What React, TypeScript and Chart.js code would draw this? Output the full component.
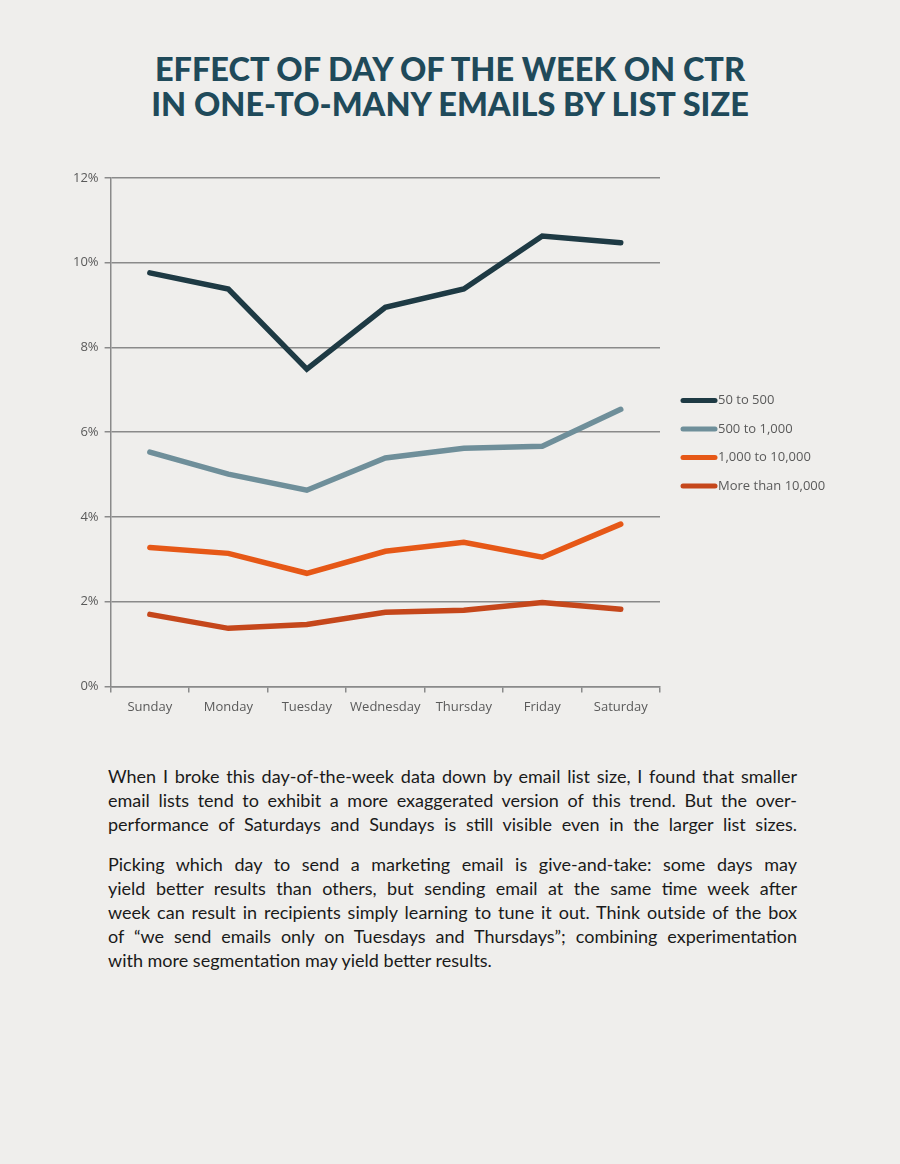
import React, { useEffect, useRef } from "react";
import { Chart, registerables } from "chart.js";

Chart.register(...registerables);

const days = ["Sunday", "Monday", "Tuesday", "Wednesday", "Thursday", "Friday", "Saturday"];
const seriesNames = ["50 to 500", "500 to 1,000", "1,000 to 10,000", "More than 10,000"];
const small = [9.76, 9.38, 7.49, 8.95, 9.38, 10.63, 10.47];
const medium = [5.53, 5.01, 4.63, 5.39, 5.62, 5.67, 6.54];
const large = [3.28, 3.14, 2.67, 3.19, 3.4, 3.05, 3.83];
const xlarge = [1.7, 1.37, 1.46, 1.75, 1.8, 1.98, 1.82];
const seriesColors = ["#1e3a44", "#6f8f9a", "#e65817", "#c5471b"];
const yTicks = [0, 2, 4, 6, 8, 10, 12];

const titleLines = ["EFFECT OF DAY OF THE WEEK ON CTR", "IN ONE-TO-MANY EMAILS BY LIST SIZE"];
const para1Lines = [
  "When I broke this day-of-the-week data down by email list size, I found that smaller",
  "email lists tend to exhibit a more exaggerated version of this trend. But the over-",
  "performance of Saturdays and Sundays is still visible even in the larger list sizes.",
];
const para2Lines = [
  "Picking which day to send a marketing email is give-and-take: some days may",
  "yield better results than others, but sending email at the same time week after",
  "week can result in recipients simply learning to tune it out. Think outside of the box",
  "of \u201cwe send emails only on Tuesdays and Thursdays\u201d; combining experimentation",
  "with more segmentation may yield better results.",
];

const legendPlugin = {
  id: "sideLegend",
  afterDraw(chart: any) {
    const { ctx, chartArea } = chart;
    const cy = (chartArea.top + chartArea.bottom) / 2 + 11;
    const x0 = chartArea.right + 23;
    ctx.save();
    chart.data.datasets.forEach((ds: any, i: number) => {
      const y = cy + (i - 1.5) * 28.5;
      ctx.strokeStyle = ds.borderColor;
      ctx.lineWidth = 5;
      ctx.lineCap = "round";
      ctx.beginPath();
      ctx.moveTo(x0, y);
      ctx.lineTo(x0 + 32, y);
      ctx.stroke();
      ctx.fillStyle = "#5a5a5a";
      ctx.font = "13px 'Open Sans'";
      ctx.textBaseline = "middle";
      ctx.textAlign = "left";
      ctx.fillText(ds.label, x0 + 35, y);
    });
    ctx.restore();
  },
};

function LineChart() {
  const ref = useRef<HTMLCanvasElement | null>(null);
  useEffect(() => {
    if (!ref.current) return;
    const data = [small, medium, large, xlarge];
    const chart = new Chart(ref.current, {
      type: "line",
      data: {
        labels: days,
        datasets: data.map((d, i) => ({
          label: seriesNames[i],
          data: d,
          borderColor: seriesColors[i],
          backgroundColor: seriesColors[i],
          borderWidth: 5.5,
          borderCapStyle: "round",
          borderJoinStyle: "miter",
          pointRadius: 0,
          tension: 0,
          fill: false,
        })),
      },
      options: {
        animation: false,
        responsive: true,
        maintainAspectRatio: false,
        layout: { padding: { left: 7, top: 18, right: 200, bottom: 8 } },
        plugins: { legend: { display: false }, tooltip: { enabled: false } },
        scales: {
          x: {
            offset: true,
            grid: { offset: true, drawOnChartArea: false, drawTicks: true, tickLength: 6, color: "#8a8a8a", lineWidth: 1.5 },
            border: { color: "#8a8a8a", width: 1.5 },
            ticks: { color: "#5a5a5a", font: { family: "'Open Sans'", size: 13 }, padding: 7, maxRotation: 0 },
          },
          y: {
            min: 0,
            max: 12,
            afterBuildTicks: (axis: any) => {
              axis.ticks = yTicks.map((v) => ({ value: v }));
            },
            grid: { color: "#8a8a8a", lineWidth: 1.5, tickLength: 6 },
            border: { color: "#8a8a8a", width: 1.5 },
            ticks: {
              color: "#5a5a5a",
              font: { family: "'Open Sans'", size: 13 },
              padding: 6,
              callback: (v: any) => `${v}%`,
            },
          },
        },
      },
      plugins: [legendPlugin],
    } as any);
    return () => chart.destroy();
  }, []);
  return <canvas ref={ref} />;
}

function Para({ lines, justifyLast }: { lines: string[]; justifyLast: boolean }) {
  return (
    <div>
      {lines.map((l, i) => {
        const last = i === lines.length - 1;
        const just = !last || justifyLast;
        return (
          <div
            key={i}
            style={{
              textAlign: just ? "justify" : "left",
              textAlignLast: just ? "justify" : "left",
              whiteSpace: "nowrap",
            }}
          >
            {l}
          </div>
        );
      })}
    </div>
  );
}

export default function App() {
  return (
    <div
      style={{
        position: "absolute",
        left: 0,
        top: 0,
        width: 900,
        height: 1164,
        background: "#efeeec",
        overflow: "hidden",
      }}
    >
      <div
        style={{
          position: "absolute",
          top: 51,
          left: 0,
          width: 900,
          textAlign: "center",
          fontFamily: "Lato, 'Open Sans', sans-serif",
          fontWeight: 900,
          fontSize: 32.5,
          lineHeight: "35px",
          color: "#1f4a5a",
        }}
      >
        {titleLines.map((t) => (
          <div key={t}>{t}</div>
        ))}
      </div>
      <div style={{ position: "absolute", left: 60, top: 160, width: 800, height: 570 }}>
        <LineChart />
      </div>
      <div
        style={{
          position: "absolute",
          left: 108,
          top: 764,
          width: 689,
          fontFamily: "Lato, sans-serif",
          fontSize: 18,
          lineHeight: "24px",
          color: "#1a1a1a",
        }}
      >
        <Para lines={para1Lines} justifyLast={true} />
        <div style={{ height: 16 }} />
        <Para lines={para2Lines} justifyLast={false} />
      </div>
    </div>
  );
}
